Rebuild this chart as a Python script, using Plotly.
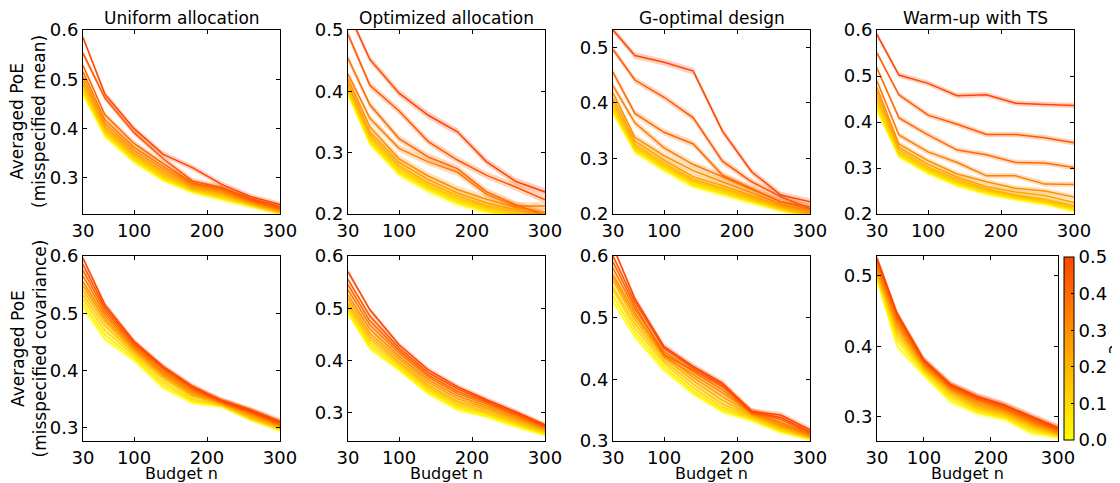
import plotly.graph_objects as go

# ---------------- data ----------------
budget_n = [30, 60, 100, 140, 180, 220, 260, 300]
levels = [0.00, 0.05, 0.10, 0.15, 0.20, 0.25, 0.30, 0.35, 0.40, 0.45, 0.50]

panel_titles = ["Uniform allocation", "Optimized allocation", "G-optimal design", "Warm-up with TS"]
row_labels = ["Averaged PoE<br>(misspecified mean)", "Averaged PoE<br>(misspecified covariance)"]
x_tickvals = [30, 100, 200, 300]
colorbar_ticks = [0.0, 0.1, 0.2, 0.3, 0.4, 0.5]

# rows ordered by level 0.00 -> 0.50
uniform_mean = [
    [0.470, 0.385, 0.333, 0.296, 0.272, 0.258, 0.243, 0.229],
    [0.474, 0.389, 0.336, 0.299, 0.274, 0.260, 0.245, 0.230],
    [0.479, 0.392, 0.339, 0.302, 0.276, 0.262, 0.246, 0.231],
    [0.484, 0.396, 0.343, 0.305, 0.278, 0.264, 0.248, 0.232],
    [0.490, 0.400, 0.347, 0.309, 0.280, 0.267, 0.249, 0.233],
    [0.497, 0.405, 0.351, 0.313, 0.282, 0.270, 0.251, 0.234],
    [0.505, 0.411, 0.356, 0.318, 0.285, 0.273, 0.252, 0.236],
    [0.515, 0.418, 0.362, 0.323, 0.288, 0.276, 0.254, 0.237],
    [0.528, 0.428, 0.370, 0.329, 0.290, 0.279, 0.256, 0.239],
    [0.553, 0.462, 0.392, 0.339, 0.294, 0.281, 0.258, 0.242],
    [0.585, 0.470, 0.400, 0.348, 0.321, 0.287, 0.262, 0.246],
]
optimized_mean = [
    [0.395, 0.315, 0.265, 0.238, 0.217, 0.204, 0.194, 0.187],
    [0.398, 0.318, 0.268, 0.241, 0.220, 0.206, 0.196, 0.189],
    [0.401, 0.321, 0.271, 0.244, 0.223, 0.208, 0.198, 0.191],
    [0.405, 0.325, 0.275, 0.247, 0.226, 0.211, 0.201, 0.193],
    [0.409, 0.329, 0.279, 0.251, 0.230, 0.214, 0.204, 0.196],
    [0.413, 0.334, 0.284, 0.256, 0.234, 0.218, 0.207, 0.199],
    [0.420, 0.342, 0.290, 0.262, 0.240, 0.224, 0.211, 0.203],
    [0.428, 0.356, 0.307, 0.285, 0.268, 0.232, 0.213, 0.213],
    [0.454, 0.378, 0.323, 0.293, 0.274, 0.236, 0.215, 0.198],
    [0.493, 0.410, 0.368, 0.318, 0.288, 0.263, 0.244, 0.223],
    [0.530, 0.452, 0.397, 0.361, 0.334, 0.285, 0.253, 0.236],
]
gopt_mean = [
    [0.382, 0.312, 0.279, 0.250, 0.236, 0.222, 0.207, 0.196],
    [0.386, 0.315, 0.282, 0.253, 0.238, 0.224, 0.209, 0.197],
    [0.390, 0.318, 0.285, 0.256, 0.241, 0.226, 0.210, 0.198],
    [0.395, 0.321, 0.288, 0.259, 0.244, 0.228, 0.212, 0.199],
    [0.401, 0.325, 0.292, 0.262, 0.247, 0.230, 0.213, 0.200],
    [0.408, 0.331, 0.297, 0.267, 0.251, 0.233, 0.215, 0.202],
    [0.418, 0.338, 0.305, 0.278, 0.258, 0.238, 0.218, 0.205],
    [0.431, 0.364, 0.319, 0.289, 0.267, 0.244, 0.222, 0.208],
    [0.455, 0.381, 0.347, 0.326, 0.270, 0.246, 0.222, 0.213],
    [0.496, 0.441, 0.410, 0.373, 0.295, 0.258, 0.231, 0.210],
    [0.531, 0.485, 0.473, 0.457, 0.349, 0.276, 0.234, 0.222],
]
warmup_mean = [
    [0.425, 0.325, 0.289, 0.262, 0.244, 0.232, 0.222, 0.207],
    [0.431, 0.328, 0.292, 0.265, 0.247, 0.235, 0.225, 0.210],
    [0.438, 0.331, 0.295, 0.268, 0.250, 0.237, 0.227, 0.212],
    [0.446, 0.335, 0.298, 0.271, 0.252, 0.239, 0.229, 0.215],
    [0.455, 0.340, 0.302, 0.275, 0.255, 0.241, 0.232, 0.218],
    [0.465, 0.345, 0.308, 0.280, 0.260, 0.248, 0.240, 0.225],
    [0.475, 0.352, 0.316, 0.287, 0.270, 0.256, 0.250, 0.237],
    [0.489, 0.372, 0.335, 0.312, 0.283, 0.283, 0.265, 0.264],
    [0.517, 0.409, 0.372, 0.339, 0.329, 0.312, 0.311, 0.301],
    [0.550, 0.459, 0.415, 0.395, 0.373, 0.373, 0.366, 0.355],
    [0.590, 0.502, 0.484, 0.457, 0.459, 0.441, 0.438, 0.436],
]
uniform_cov = [
    [0.510, 0.455, 0.418, 0.370, 0.344, 0.338, 0.315, 0.297],
    [0.517, 0.462, 0.422, 0.375, 0.347, 0.340, 0.316, 0.298],
    [0.525, 0.470, 0.426, 0.380, 0.350, 0.340, 0.317, 0.299],
    [0.532, 0.478, 0.430, 0.386, 0.355, 0.342, 0.318, 0.300],
    [0.540, 0.485, 0.434, 0.390, 0.357, 0.343, 0.320, 0.302],
    [0.548, 0.490, 0.437, 0.392, 0.360, 0.345, 0.322, 0.303],
    [0.555, 0.495, 0.440, 0.395, 0.362, 0.344, 0.325, 0.305],
    [0.565, 0.500, 0.442, 0.398, 0.365, 0.347, 0.330, 0.310],
    [0.575, 0.505, 0.445, 0.402, 0.368, 0.346, 0.327, 0.306],
    [0.585, 0.510, 0.448, 0.405, 0.370, 0.348, 0.332, 0.312],
    [0.596, 0.515, 0.451, 0.407, 0.373, 0.347, 0.329, 0.309],
]
optimized_cov = [
    [0.490, 0.423, 0.382, 0.337, 0.306, 0.293, 0.274, 0.258],
    [0.495, 0.428, 0.386, 0.341, 0.310, 0.296, 0.277, 0.260],
    [0.500, 0.434, 0.390, 0.345, 0.314, 0.299, 0.280, 0.262],
    [0.505, 0.440, 0.394, 0.349, 0.318, 0.302, 0.282, 0.264],
    [0.510, 0.446, 0.398, 0.353, 0.322, 0.306, 0.285, 0.266],
    [0.518, 0.452, 0.403, 0.358, 0.327, 0.309, 0.288, 0.268],
    [0.525, 0.460, 0.408, 0.363, 0.332, 0.313, 0.291, 0.270],
    [0.535, 0.468, 0.414, 0.368, 0.337, 0.317, 0.294, 0.272],
    [0.545, 0.476, 0.419, 0.372, 0.341, 0.320, 0.297, 0.274],
    [0.555, 0.485, 0.424, 0.377, 0.346, 0.322, 0.299, 0.275],
    [0.570, 0.497, 0.430, 0.382, 0.350, 0.325, 0.302, 0.277],
]
gopt_cov = [
    [0.526, 0.469, 0.415, 0.377, 0.348, 0.334, 0.315, 0.304],
    [0.535, 0.476, 0.420, 0.381, 0.351, 0.336, 0.317, 0.305],
    [0.545, 0.483, 0.426, 0.386, 0.355, 0.338, 0.319, 0.306],
    [0.550, 0.490, 0.430, 0.392, 0.360, 0.340, 0.321, 0.307],
    [0.560, 0.497, 0.435, 0.398, 0.366, 0.342, 0.323, 0.308],
    [0.565, 0.503, 0.440, 0.403, 0.372, 0.344, 0.325, 0.309],
    [0.570, 0.508, 0.437, 0.408, 0.378, 0.346, 0.327, 0.310],
    [0.580, 0.514, 0.445, 0.412, 0.383, 0.347, 0.330, 0.311],
    [0.590, 0.519, 0.440, 0.415, 0.388, 0.348, 0.335, 0.313],
    [0.600, 0.525, 0.450, 0.418, 0.391, 0.347, 0.338, 0.315],
    [0.615, 0.531, 0.453, 0.421, 0.394, 0.348, 0.342, 0.318],
]
warmup_cov = [
    [0.494, 0.400, 0.360, 0.322, 0.306, 0.298, 0.278, 0.272],
    [0.497, 0.408, 0.363, 0.326, 0.308, 0.300, 0.281, 0.274],
    [0.500, 0.414, 0.366, 0.330, 0.311, 0.302, 0.284, 0.275],
    [0.502, 0.419, 0.368, 0.333, 0.313, 0.304, 0.287, 0.276],
    [0.505, 0.424, 0.370, 0.336, 0.316, 0.306, 0.289, 0.277],
    [0.507, 0.428, 0.372, 0.338, 0.318, 0.308, 0.291, 0.278],
    [0.510, 0.432, 0.374, 0.340, 0.321, 0.310, 0.293, 0.280],
    [0.515, 0.436, 0.376, 0.342, 0.324, 0.312, 0.295, 0.281],
    [0.520, 0.440, 0.378, 0.344, 0.326, 0.314, 0.297, 0.282],
    [0.522, 0.444, 0.380, 0.345, 0.328, 0.316, 0.299, 0.284],
    [0.525, 0.447, 0.381, 0.346, 0.329, 0.317, 0.301, 0.285],
]
band_halfwidth_mean = 0.006
band_halfwidth_cov = 0.005

panels = [uniform_mean, optimized_mean, gopt_mean, warmup_mean,
          uniform_cov, optimized_cov, gopt_cov, warmup_cov]

y_ranges = [[0.227, 0.6], [0.2, 0.5], [0.2, 0.531], [0.2, 0.6],
            [0.277, 0.6], [0.246, 0.6], [0.3, 0.6], [0.266, 0.528]]
y_ticks = [[0.3, 0.4, 0.5, 0.6], [0.2, 0.3, 0.4, 0.5], [0.2, 0.3, 0.4, 0.5], [0.2, 0.3, 0.4, 0.5, 0.6],
           [0.3, 0.4, 0.5, 0.6], [0.3, 0.4, 0.5, 0.6], [0.3, 0.4, 0.5, 0.6], [0.3, 0.4, 0.5]]

# ---------------- layout geometry (screen pixels) ----------------
VIEW_W, VIEW_H = 1120, 483
OFF = 8  # page body margin
W, H = VIEW_W - OFF, VIEW_H - OFF
col_px = [(83, 280), (348, 545), (613, 810), (877, 1074)]
col_px_bottom_last = (877, 1058)
row_px = [(30, 214), (256, 441)]


def px(xs):
    return (xs - OFF) / W


def py(ys):
    return 1 - (ys - OFF) / H


C0, C1 = (255, 255, 0), (255, 69, 0)
colorscale = [[0.0, "rgb(%d,%d,%d)" % C0], [1.0, "rgb(%d,%d,%d)" % C1]]
FONT = "DejaVu Sans"


def level_rgb(v):
    t = v / 0.5
    return tuple(round(C0[k] + (C1[k] - C0[k]) * t) for k in range(3))


fig = go.Figure()
layout = dict(
    width=W, height=H, margin=dict(l=0, r=0, t=0, b=0, pad=0, autoexpand=False),
    paper_bgcolor="white", plot_bgcolor="white",
    font=dict(family=FONT, size=18, color="black"),
    showlegend=False,
)

for i, data in enumerate(panels):
    r, c = divmod(i, 4)
    n = i + 1
    xa = "x" if n == 1 else "x%d" % n
    ya = "y" if n == 1 else "y%d" % n
    hw = band_halfwidth_mean if r == 0 else band_halfwidth_cov
    for lev, vals in zip(levels, data):
        rgb = level_rgb(lev)
        upper = [v + hw for v in vals]
        lower = [v - hw for v in vals]
        fig.add_trace(go.Scatter(
            x=budget_n + budget_n[::-1], y=upper + lower[::-1],
            fill="toself", fillcolor="rgba(%d,%d,%d,0.25)" % rgb,
            line=dict(width=0), mode="lines", hoverinfo="skip",
            xaxis=xa, yaxis=ya))
        fig.add_trace(go.Scatter(
            x=budget_n, y=vals, mode="lines",
            line=dict(color="rgb(%d,%d,%d)" % rgb, width=1.5),
            xaxis=xa, yaxis=ya))

    x0, x1 = col_px[c]
    if r == 1 and c == 3:
        x0, x1 = col_px_bottom_last
    y0, y1 = row_px[r]
    axcommon = dict(showline=True, linecolor="black", linewidth=1, mirror="allticks",
                    ticks="inside", ticklen=4, tickcolor="black", showgrid=False,
                    zeroline=False, automargin=False, tickfont=dict(size=18, family=FONT))
    layout["xaxis" if n == 1 else "xaxis%d" % n] = dict(
        domain=[px(x0), px(x1)], anchor=ya, range=[30, 300],
        tickvals=x_tickvals, **axcommon)
    layout["yaxis" if n == 1 else "yaxis%d" % n] = dict(
        domain=[py(y1), py(y0)], anchor=xa, range=y_ranges[i],
        tickvals=y_ticks[i], tickformat=".1f", **axcommon)

# colorbar
fig.add_trace(go.Scatter(
    x=[None], y=[None], mode="markers", xaxis="x8", yaxis="y8",
    marker=dict(color=[0.0, 0.5], cmin=0, cmax=0.5, colorscale=colorscale,
                showscale=True,
                colorbar=dict(x=px(1064), xanchor="left", xpad=0, ypad=0,
                              y=py(440), yanchor="bottom",
                              len=(440 - 257) / H, lenmode="fraction",
                              thickness=10, outlinewidth=1, outlinecolor="black",
                              tickvals=colorbar_ticks, tickformat=".1f",
                              ticks="inside", ticklen=3, tickcolor="black",
                              tickfont=dict(size=18, family=FONT)))))

annotations = []
for c, t in enumerate(panel_titles):
    x0, x1 = col_px[c]
    annotations.append(dict(text=t, x=px((x0 + x1) / 2), y=py(18), xref="paper", yref="paper",
                            showarrow=False, xanchor="center", yanchor="middle",
                            font=dict(size=17, family=FONT)))
    bx0, bx1 = col_px_bottom_last if c == 3 else col_px[c]
    annotations.append(dict(text="Budget n", x=px((bx0 + bx1) / 2), y=py(473),
                            xref="paper", yref="paper", showarrow=False,
                            xanchor="center", yanchor="middle", font=dict(size=16, family=FONT)))
for r, lab in enumerate(row_labels):
    y0, y1 = row_px[r]
    annotations.append(dict(text=lab, x=px(28), y=py((y0 + y1) / 2), xref="paper", yref="paper",
                            showarrow=False, textangle=-90, xanchor="center", yanchor="middle",
                            font=dict(size=17, family=FONT)))
annotations.append(dict(text="ε", x=px(1115), y=py(349), xref="paper", yref="paper",
                        showarrow=False, textangle=90, xanchor="center", yanchor="middle",
                        font=dict(size=17, family=FONT)))
layout["annotations"] = annotations

fig.update_layout(**layout)
fig.write_html("out.html")
